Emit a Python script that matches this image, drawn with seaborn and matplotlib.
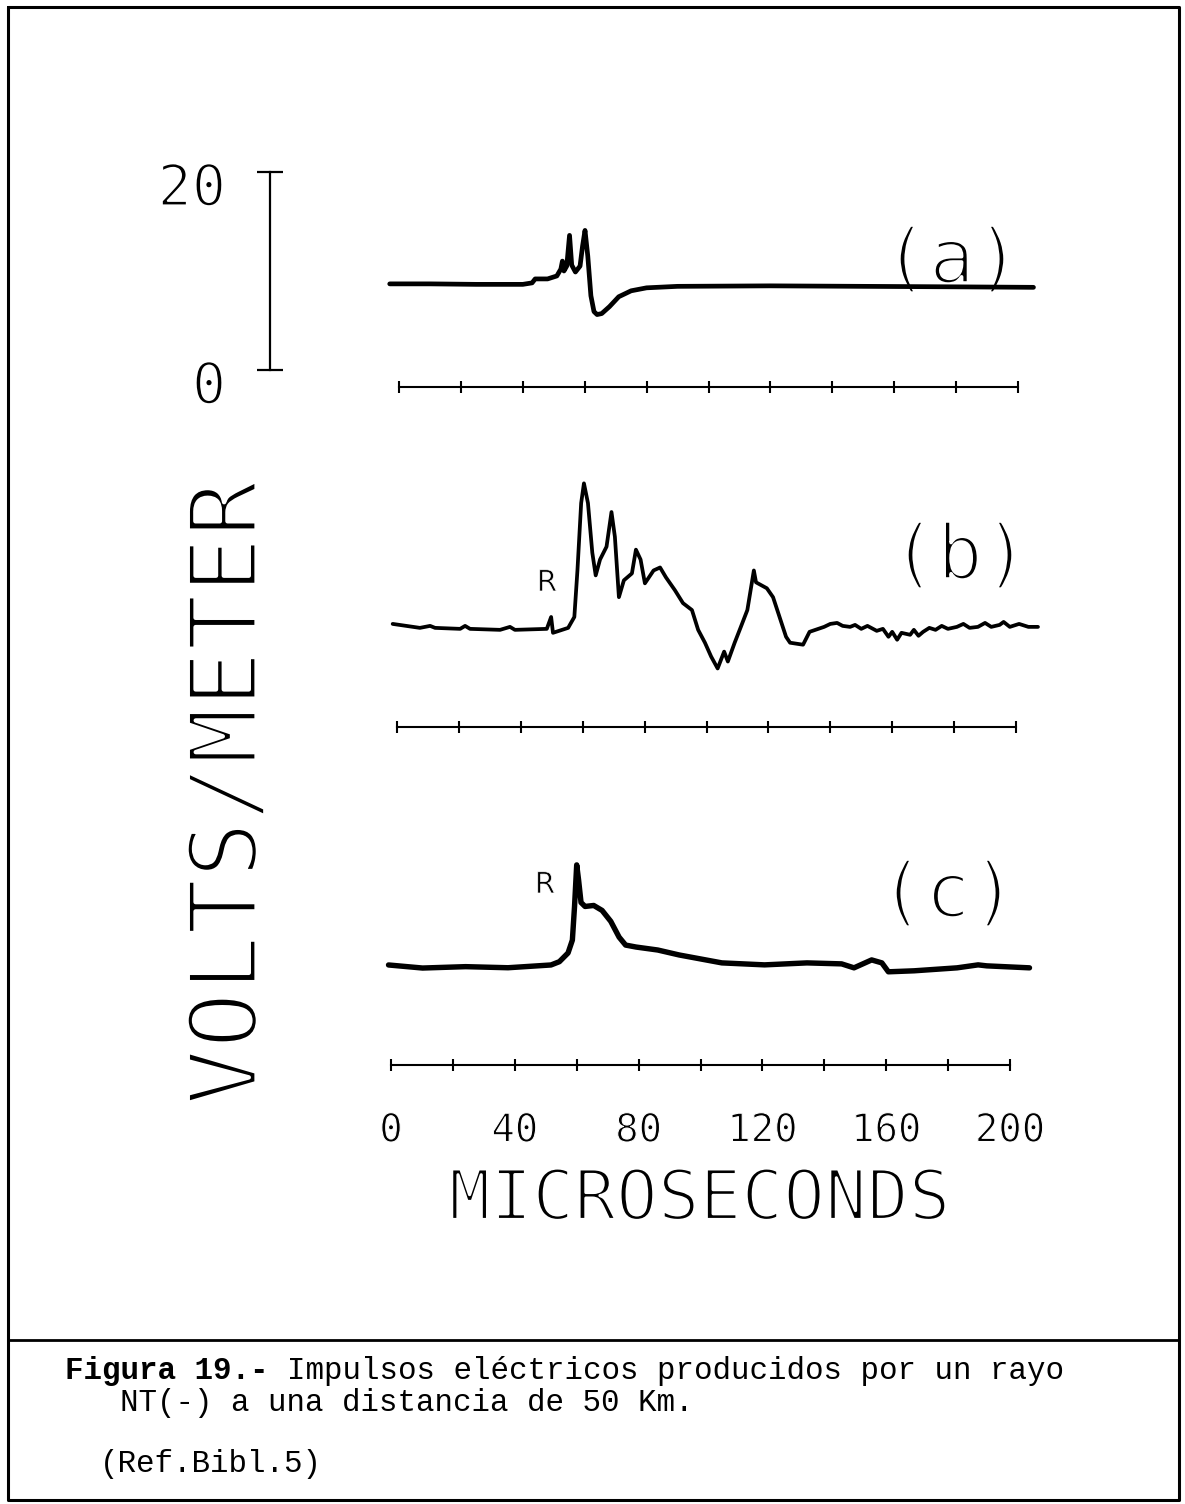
import matplotlib
matplotlib.use("Agg")
import matplotlib.pyplot as plt
import matplotlib.patheffects as pe
from matplotlib.transforms import ScaledTranslation
import seaborn as sns

# trace (a): time in microseconds, field in volts/meter
t_a = [-3, 10, 25, 40, 43, 44, 48, 51, 52.3, 52.8, 53.3, 54.2, 55.1, 55.8, 57, 58.5,
       59.3, 60.1, 61, 62, 63, 64, 65.5, 68, 71, 75, 80, 90, 120, 150, 180, 205]
v_a = [8.7, 8.7, 8.65, 8.65, 8.8, 9.2, 9.2, 9.5, 10.2, 11.0, 10.0, 10.5, 13.6, 10.6, 9.9, 10.5,
       12.5, 14.1, 11.5, 7.5, 5.9, 5.6, 5.7, 6.4, 7.4, 8.0, 8.3, 8.45, 8.5, 8.45, 8.4, 8.35]

# trace (b)
t_b = [-1.4, 7.4, 10.7, 12.3, 20.4, 22.0, 23.6, 33.3, 36.5, 38.1, 48.4, 49.8, 50.4, 55.3,
       57.3, 58.3, 59.5, 60.4, 61.7, 63.1, 64.2, 65.6, 67.7, 69.3, 70.4, 71.7, 73.3, 75.9,
       77.2, 78.7, 80.1, 82.9, 85.0, 86.9, 89.8, 92.4, 95.3, 97.3, 99.5, 101.5, 103.6, 105.7,
       106.9, 109.1, 111.1, 113.2, 115.3, 116.0, 119.5, 121.5, 123.6, 125.7, 127.0, 131.2,
       133.3, 138.0, 140, 142.2, 144, 146.4, 148, 150, 152, 153.2, 155, 157, 158.8, 160,
       161.6, 163, 165.8, 167, 168.5, 170, 172, 174, 176, 178, 180.9, 183, 185, 187.7, 190,
       192, 194.7, 196, 198, 201, 204, 207.1]
v_b = [9.1, 8.7, 8.9, 8.7, 8.6, 8.9, 8.6, 8.5, 8.8, 8.5, 8.6, 9.8, 8.2, 8.7,
       9.8, 14.5, 21.3, 23.3, 21.3, 16.3, 14.0, 15.6, 16.9, 20.4, 17.9, 11.8, 13.5, 14.2,
       16.6, 15.6, 13.2, 14.5, 14.8, 13.8, 12.5, 11.2, 10.5, 8.5, 7.2, 5.8, 4.6, 6.3,
       5.3, 7.2, 8.8, 10.5, 14.5, 13.3, 12.7, 11.8, 9.8, 7.8, 7.2, 7.0,
       8.3, 8.8, 9.1, 9.2, 8.9, 8.8, 9.0, 8.6, 8.9, 8.7, 8.4, 8.6, 7.8, 8.3,
       7.5, 8.2, 8.0, 8.5, 7.9, 8.3, 8.7, 8.5, 8.9, 8.6, 8.8, 9.1, 8.7, 8.8, 9.2,
       8.8, 9.0, 9.3, 8.8, 9.1, 8.8, 8.8]

# trace (c)
t_c = [-0.8, 10.2, 24.1, 37.8, 51.7, 54.4, 57.2, 58.6, 59.3, 60.0, 60.6, 61.4, 62.7, 65.5,
       68.2, 71.0, 73.7, 75.8, 79.2, 86.2, 93.1, 100.0, 106.9, 120.7, 134.4, 145.6, 149.6,
       155.3, 158.6, 160.7, 169.0, 182.9, 189.7, 192.5, 206.3]
v_c = [8.69, 8.38, 8.52, 8.41, 8.69, 9.02, 9.9, 11.2, 14.6, 18.8, 17.3, 15.0, 14.6, 14.7,
       14.2, 13.1, 11.5, 10.7, 10.5, 10.2, 9.7, 9.3, 8.9, 8.7, 8.9, 8.8, 8.4,
       9.2, 8.9, 8.0, 8.1, 8.4, 8.7, 8.6, 8.4]

time_ticks = list(range(0, 201, 20))
scale_ticks = [0, 20]
panel_labels = ["(a)", "(b)", "(c)"]

sns.set_style("white")
plt.rcParams["font.family"] = ["DejaVu Sans Mono", "DejaVu Sans"]
plt.rcParams["text.color"] = "black"
plt.rcParams["xtick.color"] = "black"
plt.rcParams["ytick.color"] = "black"
plt.rcParams["xtick.labelcolor"] = "black"
plt.rcParams["ytick.labelcolor"] = "black"

W, H = 1185, 1504
fig = plt.figure(figsize=(W / 100, H / 100), dpi=100)

# overlay in pixel coordinates for frame, caption and big labels
frame = fig.add_axes([0, 0, 1, 1])
frame.set_xlim(0, W)
frame.set_ylim(H, 0)
frame.axis("off")


def thin(w):
    # erode the glyph outline so the letters look like plotter strokes
    return [pe.Stroke(linewidth=w, foreground="white")]


PX_US = 3.095   # pixels per microsecond
PX_V = 9.9      # pixels per volt/meter
T0, T1 = -8, 215
V0, V1 = -4, 24


def panel(left0, zero_px, axis_px):
    left = left0 + T0 * PX_US
    width = (T1 - T0) * PX_US
    top = zero_px - V1 * PX_V
    height = (V1 - V0) * PX_V
    ax = fig.add_axes([left / W, 1 - (top + height) / H, width / W, height / H])
    ax.set_xlim(T0, T1)
    ax.set_ylim(V0, V1)
    ax.patch.set_alpha(0)
    for s in ["top", "right", "left"]:
        ax.spines[s].set_visible(False)
    sp = ax.spines["bottom"]
    sp.set_position(("data", (zero_px - axis_px) / PX_V))
    sp.set_bounds(0, 200)
    sp.set_linewidth(1.5)
    sp.set_color("black")
    ax.set_yticks([])
    return ax


traces = [(t_a, v_a, 399, 370, 387, 3.4),
          (t_b, v_b, 397, 714, 727, 2.7),
          (t_c, v_c, 391, 1051, 1065, 3.9)]
axes = []
for t, v, left0, zero_px, axis_px, lw in traces:
    ax = panel(left0, zero_px, axis_px)
    sns.lineplot(x=t, y=v, ax=ax, color="black", lw=lw, estimator=None)
    ax.set_xlabel("")
    ax.set_ylabel("")
    axes.append(ax)

for i, ax in enumerate(axes):
    last = i == len(axes) - 1
    labels = [str(t) if (last and t % 40 == 0) else "" for t in time_ticks]
    ax.set_xticks(time_ticks, labels=labels)
    ax.tick_params(axis="x", direction="inout", length=9, width=1.5, color="black",
                   pad=29, labelsize=28, labelcolor="black", bottom=True)
    for lbl in ax.get_xticklabels():
        lbl.set_path_effects(thin(0.8))

# vertical 0-20 V/m scale bar on panel (a)
ax_a = axes[0]
ax_a.spines["left"].set_visible(True)
ax_a.spines["left"].set_position(("data", (270 - 399) / PX_US))
ax_a.spines["left"].set_bounds(0, 20)
ax_a.spines["left"].set_linewidth(1.6)
ax_a.spines["left"].set_color("black")
ax_a.set_yticks(scale_ticks, labels=[str(s) for s in scale_ticks])
ax_a.tick_params(axis="y", direction="inout", length=19, width=1.6, color="black",
                 pad=22, labelsize=41, labelcolor="black", left=True)
shift = ScaledTranslation(0, -0.12, fig.dpi_scale_trans)
for tick in ax_a.yaxis.get_major_ticks():
    tick.label1.set_transform(tick.label1.get_transform() + shift)
    tick.label1.set_path_effects(thin(1.6))

# panel tags and R marks
for (x, y), txt in zip([(952, 262), (960, 558), (948, 896)], panel_labels):
    frame.text(x, y, txt, ha="center", va="center", fontsize=55, path_effects=thin(2.6))
for x, y in [(547, 583), (545, 885)]:
    frame.text(x, y, "R", ha="center", va="center", fontsize=21,
               family="DejaVu Sans", path_effects=thin(0.5))

frame.text(230, 793, "VOLTS/METER", rotation=90, ha="center", va="center",
           fontsize=68, path_effects=thin(3.2))
frame.text(700, 1200, "MICROSECONDS", ha="center", va="center",
           fontsize=50, path_effects=thin(2.3))

# border and caption box
frame.plot([8, 1179, 1179, 8, 8], [7, 7, 1500, 1500, 7], color="black", lw=2.2)
frame.plot([8, 1179], [1340, 1340], color="black", lw=2.0)

cap = dict(family="Liberation Mono", fontsize=22.2, va="center", color="black")
frame.text(65, 1371, "Figura 19.-", weight="bold", **cap)
frame.text(287, 1371, "Impulsos eléctricos producidos por un rayo", **cap)
frame.text(120, 1403, "NT(-) a una distancia de 50 Km.", **cap)
frame.text(100, 1464, "(Ref.Bibl.5)", **cap)

fig.savefig("out.png", dpi=100)
